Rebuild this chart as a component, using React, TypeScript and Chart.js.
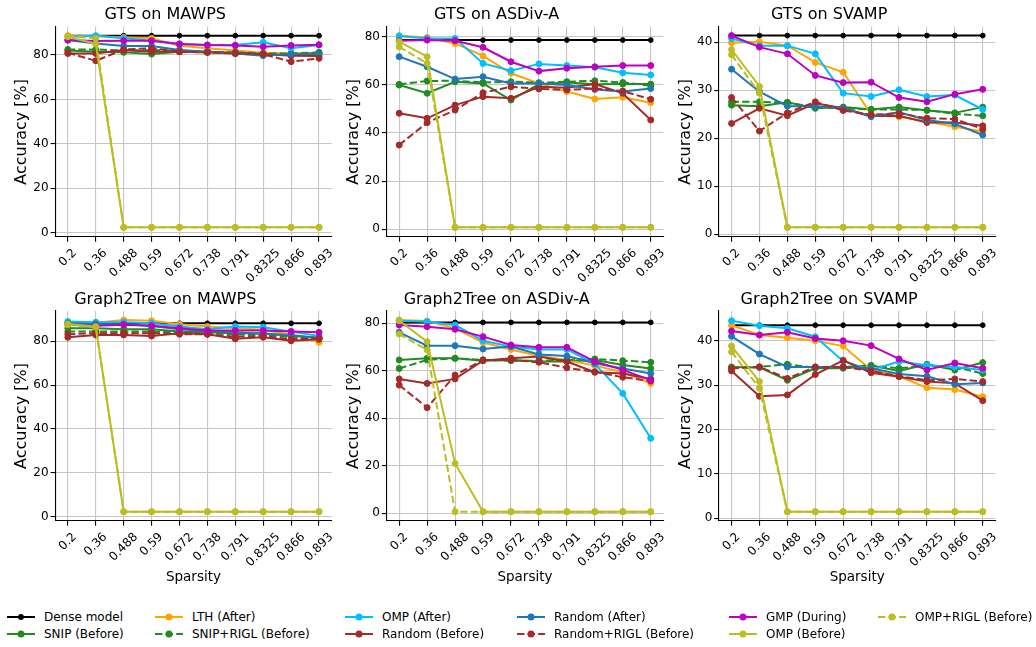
import React, { useEffect, useRef } from 'react';
import { Chart, registerables } from 'chart.js';

Chart.register(...registerables);

const FONT = "'DejaVu Sans', 'Liberation Sans', sans-serif";

// ---------- data ----------
const sparsityLabels = ['0.2', '0.36', '0.488', '0.59', '0.672', '0.738', '0.791', '0.8325', '0.866', '0.893'];

// plotting order (matplotlib order; legend is filled column by column)
const methodNames = [
  'Dense model',
  'SNIP (Before)',
  'LTH (After)',
  'SNIP+RIGL (Before)',
  'OMP (After)',
  'Random (Before)',
  'Random (After)',
  'Random+RIGL (Before)',
  'GMP (During)',
  'OMP (Before)',
  'OMP+RIGL (Before)',
];
const methodColors = [
  '#000000', '#228b22', '#ffa500', '#228b22', '#00bfff', '#a52a2a',
  '#1f77b4', '#a52a2a', '#bf00bf', '#bcbd22', '#bcbd22',
];
const methodDashed = [false, false, false, true, false, false, false, true, false, false, true];

// each panel: rows follow methodNames order
const gtsMawps = [
  [88.7, 88.7, 88.7, 88.7, 88.7, 88.7, 88.7, 88.7, 88.7, 88.7],
  [82.0, 81.5, 81.2, 80.4, 81.5, 81.2, 80.7, 80.4, 80.4, 81.0],
  [88.7, 88.5, 87.9, 87.5, 84.2, 83.0, 82.0, 81.0, 80.7, 80.7],
  [82.5, 82.5, 82.0, 82.2, 82.0, 81.5, 81.2, 80.7, 80.7, 81.2],
  [88.2, 88.7, 87.5, 86.4, 85.0, 84.5, 84.5, 85.7, 83.0, 84.5],
  [80.7, 80.7, 82.2, 81.5, 81.5, 81.2, 81.0, 80.4, 79.7, 79.5],
  [86.7, 85.2, 84.0, 84.0, 82.2, 81.5, 80.7, 79.7, 80.4, 80.4],
  [81.0, 77.4, 82.5, 83.0, 81.5, 81.2, 80.7, 80.4, 77.0, 78.5],
  [86.7, 86.3, 86.4, 86.4, 85.0, 84.5, 84.3, 83.7, 84.3, 84.6],
  [88.2, 85.0, 2.4, 2.4, 2.4, 2.4, 2.4, 2.4, 2.4, 2.4],
  [88.5, 87.5, 2.4, 2.4, 2.4, 2.4, 2.4, 2.4, 2.4, 2.4],
];
const gtsAsdiv = [
  [78.6, 78.6, 78.6, 78.6, 78.6, 78.6, 78.6, 78.6, 78.6, 78.6],
  [59.9, 56.5, 61.3, 60.6, 53.7, 60.3, 61.0, 60.2, 60.3, 60.3],
  [80.4, 79.7, 77.2, 72.0, 64.8, 60.6, 57.2, 54.1, 54.8, 52.6],
  [60.2, 61.6, 61.7, 61.0, 61.3, 60.9, 61.3, 61.7, 61.0, 59.7],
  [80.3, 79.3, 79.3, 68.9, 65.9, 68.7, 68.0, 67.3, 65.0, 64.1],
  [48.2, 46.1, 51.6, 55.1, 54.4, 59.2, 58.8, 60.3, 56.5, 45.4],
  [71.7, 67.5, 62.4, 63.4, 60.6, 60.6, 59.9, 58.1, 57.2, 58.5],
  [35.0, 44.3, 49.5, 56.7, 59.2, 58.3, 57.9, 58.5, 57.4, 54.0],
  [78.3, 78.6, 78.3, 75.6, 69.6, 65.7, 66.9, 67.5, 68.0, 68.0],
  [78.0, 71.7, 0.8, 0.8, 0.8, 0.8, 0.8, 0.8, 0.8, 0.8],
  [75.8, 68.9, 0.8, 0.8, 0.8, 0.8, 0.8, 0.8, 0.8, 0.8],
];
const gtsSvamp = [
  [41.4, 41.4, 41.4, 41.4, 41.4, 41.4, 41.4, 41.4, 41.4, 41.4],
  [26.9, 26.7, 27.5, 26.25, 26.5, 26.0, 26.5, 25.8, 25.3, 26.5],
  [39.9, 40.1, 39.3, 35.8, 33.75, 25.0, 24.5, 23.5, 22.4, 21.4],
  [27.6, 27.6, 27.4, 26.5, 26.25, 26.0, 26.0, 25.9, 25.1, 24.7],
  [40.8, 39.3, 39.3, 37.6, 29.4, 28.7, 30.1, 28.7, 29.0, 26.0],
  [23.1, 26.25, 24.7, 27.3, 26.25, 24.65, 24.7, 23.3, 23.3, 22.6],
  [34.4, 29.7, 26.7, 26.7, 26.25, 24.5, 25.4, 23.8, 23.0, 20.7],
  [28.5, 21.5, 25.3, 27.6, 25.8, 24.9, 25.2, 24.2, 24.0, 21.9],
  [41.4, 39.0, 37.6, 33.1, 31.6, 31.7, 28.5, 27.6, 29.2, 30.2],
  [38.5, 30.8, 1.46, 1.46, 1.46, 1.46, 1.46, 1.46, 1.46, 1.46],
  [37.4, 29.4, 1.46, 1.46, 1.46, 1.46, 1.46, 1.46, 1.46, 1.46],
];
const g2tMawps = [
  [88.2, 88.2, 88.2, 88.2, 88.2, 88.2, 88.2, 88.2, 88.2, 88.2],
  [85.9, 85.9, 85.5, 85.5, 84.4, 84.1, 83.7, 83.7, 82.4, 81.7],
  [88.2, 88.5, 89.7, 89.3, 87.8, 86.7, 85.9, 85.2, 82.9, 79.5],
  [84.4, 84.4, 84.4, 84.4, 84.1, 83.7, 83.2, 82.9, 82.1, 81.4],
  [89.0, 88.7, 88.7, 88.2, 86.7, 85.5, 86.7, 86.4, 84.4, 82.4],
  [81.8, 82.9, 82.9, 82.4, 83.7, 83.2, 81.1, 81.8, 80.2, 80.9],
  [88.2, 87.9, 87.8, 87.0, 85.5, 84.7, 84.1, 83.3, 82.9, 81.4],
  [83.2, 83.7, 83.7, 83.7, 83.2, 83.2, 82.1, 82.4, 80.9, 81.4],
  [87.5, 87.1, 87.5, 87.1, 85.9, 84.9, 84.9, 84.9, 84.4, 84.1],
  [87.9, 86.7, 2.3, 2.3, 2.3, 2.3, 2.3, 2.3, 2.3, 2.3],
  [87.5, 86.4, 2.3, 2.3, 2.3, 2.3, 2.3, 2.3, 2.3, 2.3],
];
const g2tAsdiv = [
  [80.4, 80.4, 80.4, 80.4, 80.4, 80.4, 80.4, 80.4, 80.4, 80.4],
  [64.6, 65.3, 65.3, 64.3, 64.6, 63.9, 63.9, 64.6, 62.5, 61.0],
  [81.4, 81.0, 77.9, 71.9, 69.0, 66.2, 64.6, 62.2, 59.4, 54.7],
  [61.0, 64.6, 65.3, 64.6, 64.3, 64.3, 64.6, 65.0, 64.3, 63.6],
  [81.1, 80.7, 79.3, 72.7, 70.2, 69.0, 69.0, 62.9, 50.5, 31.6],
  [56.6, 54.7, 56.6, 64.3, 65.3, 66.0, 63.9, 59.4, 58.9, 56.6],
  [76.2, 70.6, 70.6, 69.2, 70.2, 66.9, 66.2, 63.2, 61.0, 58.9],
  [54.0, 44.5, 58.2, 64.6, 64.6, 63.6, 61.3, 59.6, 57.3, 55.7],
  [79.3, 78.6, 77.5, 74.4, 70.9, 69.9, 69.9, 63.9, 60.4, 56.1],
  [81.1, 72.3, 21.0, 0.7, 0.7, 0.7, 0.7, 0.7, 0.7, 0.7],
  [75.5, 68.8, 0.7, 0.7, 0.7, 0.7, 0.7, 0.7, 0.7, 0.7],
];
const g2tSvamp = [
  [43.5, 43.5, 43.5, 43.5, 43.5, 43.5, 43.5, 43.5, 43.5, 43.5],
  [34.1, 34.0, 31.1, 33.8, 33.8, 34.4, 33.2, 34.7, 33.4, 35.1],
  [43.5, 41.3, 40.7, 40.0, 38.8, 33.4, 32.0, 29.4, 29.0, 27.4],
  [33.8, 34.1, 34.7, 33.9, 34.1, 34.4, 33.8, 34.4, 34.1, 32.6],
  [44.5, 43.4, 42.8, 40.9, 35.4, 33.4, 35.3, 34.5, 34.1, 33.4],
  [33.2, 27.5, 27.8, 32.4, 35.6, 32.8, 31.9, 30.8, 30.4, 26.5],
  [41.0, 37.0, 34.1, 34.1, 34.1, 33.8, 32.5, 32.0, 30.2, 30.5],
  [33.8, 34.1, 31.5, 34.1, 34.1, 33.2, 32.0, 31.1, 31.4, 30.8],
  [42.2, 41.3, 41.9, 40.5, 40.0, 38.9, 35.9, 33.4, 35.0, 33.8],
  [38.8, 30.8, 1.5, 1.5, 1.5, 1.5, 1.5, 1.5, 1.5, 1.5],
  [37.5, 29.3, 1.5, 1.5, 1.5, 1.5, 1.5, 1.5, 1.5, 1.5],
];

const yTicksAcc = [0, 20, 40, 60, 80];
const yTicksSvamp = [0, 10, 20, 30, 40];

// ---------- layout ----------
type Panel = {
  title: string;
  data: number[][];
  yMin: number;
  yMax: number;
  yTicks: number[];
  spine: number;
  right: number;
  row: number;
};

const COL_SPINE = [55.3, 386.6, 719.0];
const COL_RIGHT = [331.6, 663.3, 995.3];

const panels: Panel[] = [
  { title: 'GTS on MAWPS', data: gtsMawps, yMin: -1.94, yMax: 92.74, yTicks: yTicksAcc, spine: COL_SPINE[0], right: COL_RIGHT[0], row: 0 },
  { title: 'GTS on ASDiv-A', data: gtsAsdiv, yMin: -3.2, yMax: 84.15, yTicks: yTicksAcc, spine: COL_SPINE[1], right: COL_RIGHT[1], row: 0 },
  { title: 'GTS on SVAMP', data: gtsSvamp, yMin: -0.56, yMax: 43.25, yTicks: yTicksSvamp, spine: COL_SPINE[2], right: COL_RIGHT[2], row: 0 },
  { title: 'Graph2Tree on MAWPS', data: g2tMawps, yMin: -1.96, yMax: 93.8, yTicks: yTicksAcc, spine: COL_SPINE[0], right: COL_RIGHT[0], row: 1 },
  { title: 'Graph2Tree on ASDiv-A', data: g2tAsdiv, yMin: -3.24, yMax: 85.2, yTicks: yTicksAcc, spine: COL_SPINE[1], right: COL_RIGHT[1], row: 1 },
  { title: 'Graph2Tree on SVAMP', data: g2tSvamp, yMin: -0.6, yMax: 46.7, yTicks: yTicksSvamp, spine: COL_SPINE[2], right: COL_RIGHT[2], row: 1 },
];

// row geometry: canvas top, title padding top, chart bottom, canvas height
const ROWS = [
  { top: 0, titlePadTop: 5.5, chartBottom: 237, height: 295, xTitle: false },
  { top: 284, titlePadTop: 5.8, chartBottom: 521, height: 306, xTitle: true },
];

const TITLE_SIZE = 16;
const YLABEL_SIZE = 16;
const XLABEL_SIZE = 13.5;
const TICK_SIZE = 12;
const RIGHT_PAD = 16;

function geometry(p: Panel) {
  const left = Math.floor(p.spine - 56);
  const yW = p.spine - left;
  const width = Math.ceil(p.right - left + RIGHT_PAD);
  const rightPad = width - (p.right - left);
  const row = ROWS[p.row];
  const xH = row.top + row.height - row.chartBottom;
  return { left, yW, width, rightPad, top: row.top, height: row.height, xH, row };
}

const xLabelPlugin = {
  id: 'rotatedXLabels',
  afterDraw(chart: any) {
    const ctx = chart.ctx as CanvasRenderingContext2D;
    const xs = chart.scales.x;
    const y0 = chart.chartArea.bottom + 9.6;
    ctx.save();
    ctx.font = `${TICK_SIZE}px ${FONT}`;
    ctx.fillStyle = '#000';
    ctx.textAlign = 'center';
    ctx.textBaseline = 'middle';
    sparsityLabels.forEach((lab, i) => {
      const x = xs.getPixelForValue(i);
      const w = ctx.measureText(lab).width;
      const h = TICK_SIZE * 1.05;
      const half = (w + h) / Math.SQRT2 / 2;
      ctx.save();
      ctx.translate(x, y0 + half);
      ctx.rotate(-Math.PI / 4);
      ctx.fillText(lab, 0, 0);
      ctx.restore();
    });
    ctx.restore();
  },
};

function PanelChart({ panel }: { panel: Panel }) {
  const ref = useRef<HTMLCanvasElement | null>(null);
  const g = geometry(panel);

  useEffect(() => {
    if (!ref.current) return;
    const datasets = panel.data.map((vals, k) => {
      const c = methodColors[k];
      const dense = k === 0;
      return {
        label: methodNames[k],
        data: vals.map((v, i) => ({ x: i, y: v })),
        borderColor: c,
        backgroundColor: c,
        borderWidth: 2,
        borderDash: methodDashed[k] ? [7.4, 3.2] : [],
        pointRadius: dense ? 2.4 : 3,
        pointBorderWidth: 1,
        pointBackgroundColor: c,
        pointBorderColor: c,
        pointHoverRadius: 3,
        tension: 0,
        order: panel.data.length - k,
      };
    });

    const gridColor = '#c6c6c6';
    const chart = new Chart(ref.current, {
      type: 'line',
      data: { datasets } as any,
      plugins: [xLabelPlugin],
      options: {
        animation: false,
        responsive: false,
        maintainAspectRatio: false,
        events: [],
        layout: { padding: { left: 0, right: g.rightPad, top: 0, bottom: 0 } },
        plugins: {
          legend: { display: false },
          tooltip: { enabled: false },
          title: {
            display: true,
            text: panel.title,
            color: '#000',
            font: { family: FONT, size: TITLE_SIZE, weight: 'normal', lineHeight: 1.2 },
            padding: { top: g.row.titlePadTop, bottom: 2 },
          },
        },
        scales: {
          x: {
            type: 'linear',
            min: -0.45,
            max: 9.45,
            afterBuildTicks: (axis: any) => {
              axis.ticks = sparsityLabels.map((_, i) => ({ value: i }));
            },
            afterFit: (axis: any) => {
              axis.height = g.xH;
            },
            ticks: { display: false },
            grid: {
              color: gridColor,
              lineWidth: 1.1,
              drawTicks: true,
              tickLength: 4.7,
              tickColor: '#000',
              tickWidth: 1.1,
            },
            border: { display: true, color: '#000', width: 1.1 },
            title: {
              display: g.row.xTitle,
              text: 'Sparsity',
              color: '#000',
              font: { family: FONT, size: XLABEL_SIZE, lineHeight: 1.2 },
              padding: { top: 0, bottom: 4.9 },
            },
          },
          y: {
            type: 'linear',
            min: panel.yMin,
            max: panel.yMax,
            afterBuildTicks: (axis: any) => {
              axis.ticks = panel.yTicks.map((v) => ({ value: v }));
            },
            afterFit: (axis: any) => {
              axis.width = g.yW;
            },
            ticks: {
              color: '#000',
              font: { family: FONT, size: TICK_SIZE },
              padding: 2,
            },
            grid: {
              color: gridColor,
              lineWidth: 1.1,
              drawTicks: true,
              tickLength: 4.7,
              tickColor: '#000',
              tickWidth: 1.1,
            },
            border: { display: true, color: '#000', width: 1.1 },
            title: {
              display: true,
              text: 'Accuracy [%]',
              color: '#000',
              font: { family: FONT, size: YLABEL_SIZE, lineHeight: 1.2 },
              padding: { top: g.yW - 33 - (YLABEL_SIZE * 1.2) / 2, bottom: 0 },
            },
          },
        },
      } as any,
    });
    return () => chart.destroy();
  }, [panel]);

  return (
    <canvas
      ref={ref}
      width={g.width}
      height={g.height}
      style={{ position: 'absolute', left: g.left, top: g.top, width: g.width, height: g.height }}
    />
  );
}

// legend layout (matplotlib fills columns first)
const legendColX = [7, 155, 345, 517, 729, 878];
const legendRowY = [617, 634];

function LegendItem({ k }: { k: number }) {
  const col = Math.floor(k / 2);
  const row = k % 2;
  const c = methodColors[k];
  const x = legendColX[col];
  const y = legendRowY[row];
  return (
    <div
      style={{
        position: 'absolute',
        left: x,
        top: y - 9,
        height: 18,
        display: 'flex',
        alignItems: 'center',
        whiteSpace: 'nowrap',
      }}
    >
      <svg width={28} height={18} style={{ display: 'block' }}>
        <line
          x1={0}
          y1={9}
          x2={28}
          y2={9}
          stroke={c}
          strokeWidth={2}
          strokeDasharray={methodDashed[k] ? '7.4 3.2' : undefined}
        />
        <circle cx={14} cy={9} r={k === 0 ? 2.9 : 3.5} fill={c} />
      </svg>
      <span
        style={{
          marginLeft: 9,
          fontFamily: FONT,
          fontSize: 12,
          lineHeight: '18px',
          color: '#000',
        }}
      >
        {methodNames[k]}
      </span>
    </div>
  );
}

export default function App() {
  return (
    <div
      style={{
        position: 'absolute',
        left: 0,
        top: 0,
        width: 1036,
        height: 647,
        background: '#fff',
        overflow: 'hidden',
      }}
    >
      {panels.map((p, i) => (
        <PanelChart key={i} panel={p} />
      ))}
      {methodNames.map((_, k) => (
        <LegendItem key={k} k={k} />
      ))}
    </div>
  );
}
